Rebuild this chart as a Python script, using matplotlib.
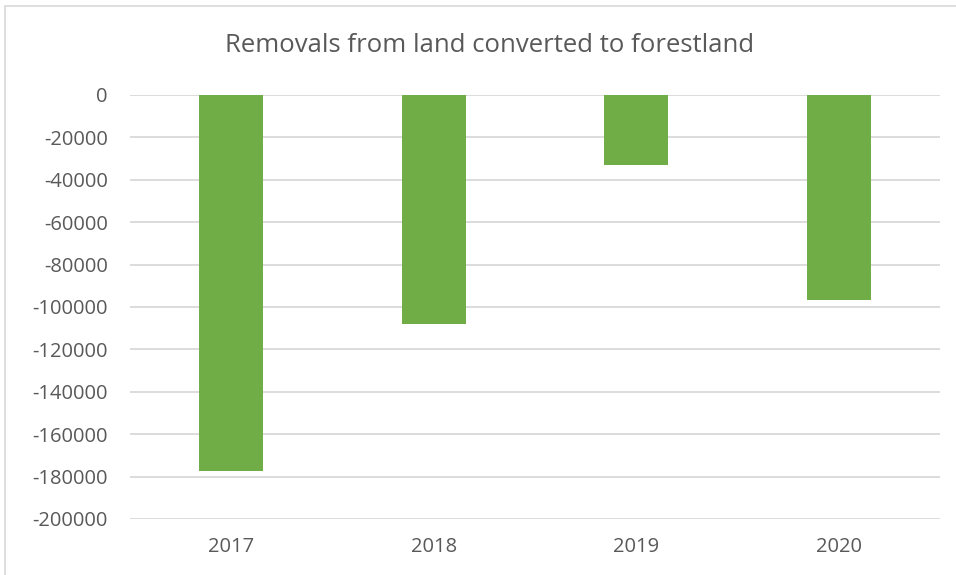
import matplotlib
matplotlib.use("Agg")
import matplotlib.pyplot as plt
from matplotlib.patches import Rectangle

categories = ["2017", "2018", "2019", "2020"]
values = [-177500, -108000, -33000, -96700]
yticks = list(range(0, -200001, -20000))

plt.rcParams['font.family'] = ['Open Sans', 'DejaVu Sans']

fig = plt.figure(figsize=(9.56, 5.75), dpi=100)
W, H = 956, 575
ax = fig.add_axes([130 / W, 1 - 519 / H, (940 - 130) / W, (519 - 95) / H])

x = list(range(len(categories)))
ax.bar(x, values, width=0.315, color="#70AD47", zorder=3)
ax.set_xlim(-0.5, len(categories) - 0.5)
ax.set_ylim(-200000, 0)
ax.set_yticks(yticks)
ax.set_yticklabels([str(v) for v in yticks])
ax.set_xticks(x)
ax.set_xticklabels(categories)
ax.grid(axis="y", color="#D9D9D9", linewidth=1.3, zorder=0)
for s in ax.spines.values():
    s.set_visible(False)
ax.tick_params(axis="both", length=0, labelsize=14.5, colors="#595959")
ax.tick_params(axis="y", pad=16)
ax.tick_params(axis="x", pad=13)

fig.text(490 / W, 1 - 45 / H, "Removals from land converted to forestland",
         ha="center", va="center", fontsize=18.5, color="#595959")

fig.patches.append(Rectangle((5 / W, -0.1), 1.2, 1 - 6 / H + 0.1, transform=fig.transFigure,
                             fill=False, edgecolor="#D9D9D9", linewidth=1.2))

fig.savefig("out.png", dpi=100)
